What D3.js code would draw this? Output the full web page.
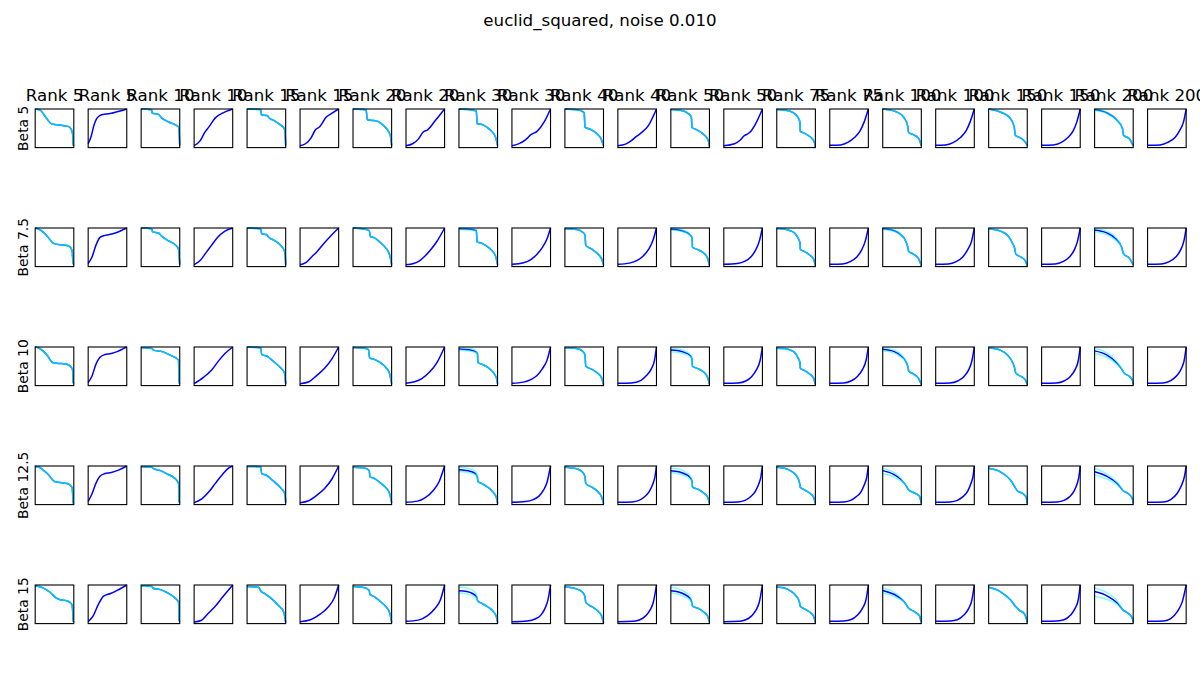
<!DOCTYPE html>
<html>
<head>
<meta charset="utf-8">
<script src="https://cdn.jsdelivr.net/npm/d3@7"></script>
<style>
  html, body { margin: 0; padding: 0; background: #ffffff; }
  svg { display: block; font-family: "DejaVu Sans", sans-serif; }
</style>
</head>
<body>
<svg id="chart" width="1200" height="700"></svg>
<script>
// ---------------- DATA ----------------
const chartTitle = "euclid_squared, noise 0.010";
const ranks = [5, 10, 15, 20, 30, 40, 50, 75, 100, 150, 200];
const betas = ["5", "7.5", "10", "12.5", "15"];

// Decreasing curves (odd columns): decreasing[rankIdx][betaIdx] = [[x, y], ...] (normalised)
const decreasing = [
  [ // Rank 5
    [[0,1],[0.13,0.97],[0.25,0.82],[0.43,0.61],[0.5,0.6],[0.85,0.55],[0.93,0.48],[0.97,0.35],[0.98,0.1],[1,0.05]],
    [[0,1],[0.07,0.98],[0.2,0.9],[0.3,0.8],[0.48,0.6],[0.6,0.57],[0.85,0.54],[0.93,0.48],[0.96,0.38],[0.98,0.1],[1,0.05]],
    [[0,1],[0.08,0.98],[0.2,0.9],[0.3,0.8],[0.45,0.6],[0.55,0.58],[0.8,0.56],[0.93,0.48],[0.97,0.4],[0.98,0.1],[1,0.05]],
    [[0,0.99],[0.08,0.98],[0.2,0.9],[0.32,0.8],[0.5,0.6],[0.6,0.58],[0.85,0.54],[0.95,0.45],[0.97,0.3],[0.98,0.05],[1,0.03]],
    [[0,0.98],[0.1,0.96],[0.25,0.9],[0.4,0.8],[0.55,0.66],[0.65,0.62],[0.85,0.58],[0.95,0.5],[0.97,0.35],[0.98,0.1],[1,0.03]]
  ],
  [ // Rank 10
    [[0,1],[0.27,0.98],[0.29,0.89],[0.45,0.86],[0.53,0.77],[0.7,0.67],[0.9,0.58],[0.97,0.53],[0.99,0.3],[1,0.05]],
    [[0,1],[0.27,0.98],[0.3,0.9],[0.45,0.87],[0.52,0.8],[0.7,0.67],[0.9,0.55],[0.97,0.45],[0.99,0.2],[1,0.05]],
    [[0,0.98],[0.28,0.96],[0.32,0.92],[0.55,0.88],[0.75,0.79],[0.97,0.66],[0.98,0.1],[1,0.05]],
    [[0,0.98],[0.28,0.97],[0.32,0.93],[0.5,0.88],[0.7,0.78],[0.85,0.7],[0.97,0.55],[0.98,0.1],[1,0.05]],
    [[0,0.98],[0.28,0.96],[0.32,0.91],[0.5,0.88],[0.68,0.8],[0.86,0.68],[0.97,0.56],[0.98,0.1],[1,0.05]]
  ],
  [ // Rank 15
    [[0,1],[0.35,0.99],[0.37,0.85],[0.52,0.83],[0.58,0.76],[0.7,0.7],[0.85,0.6],[0.97,0.48],[0.99,0.3],[1,0.05]],
    [[0,1],[0.35,0.98],[0.38,0.85],[0.5,0.83],[0.56,0.76],[0.7,0.68],[0.85,0.57],[0.97,0.4],[0.99,0.25],[1,0.05]],
    [[0,1],[0.35,0.98],[0.38,0.8],[0.52,0.76],[0.6,0.7],[0.74,0.58],[0.88,0.45],[0.97,0.33],[0.99,0.15],[1,0.05]],
    [[0,0.99],[0.35,0.98],[0.38,0.8],[0.5,0.76],[0.6,0.68],[0.75,0.55],[0.9,0.4],[0.98,0.28],[1,0.05]],
    [[0,0.96],[0.3,0.94],[0.36,0.84],[0.45,0.78],[0.62,0.66],[0.8,0.48],[0.95,0.3],[0.98,0.15],[1,0.03]]
  ],
  [ // Rank 20
    [[0,1],[0.34,0.98],[0.37,0.72],[0.55,0.7],[0.68,0.66],[0.8,0.56],[0.9,0.45],[0.97,0.3],[1,0.05]],
    [[0,1],[0.3,0.97],[0.42,0.93],[0.45,0.78],[0.55,0.75],[0.7,0.63],[0.85,0.48],[0.95,0.3],[1,0.05]],
    [[0,0.99],[0.3,0.97],[0.4,0.93],[0.43,0.72],[0.55,0.68],[0.7,0.6],[0.85,0.47],[0.95,0.3],[1,0.05]],
    [[0,0.97],[0.3,0.95],[0.42,0.88],[0.44,0.72],[0.55,0.68],[0.7,0.57],[0.85,0.44],[0.95,0.28],[1,0.05]],
    [[0,0.96],[0.3,0.93],[0.42,0.86],[0.44,0.75],[0.55,0.7],[0.7,0.58],[0.85,0.44],[0.95,0.28],[1,0.03]]
  ],
  [ // Rank 30
    [[0,1],[0.3,0.98],[0.45,0.95],[0.47,0.62],[0.6,0.6],[0.72,0.53],[0.85,0.42],[0.95,0.27],[1,0.05]],
    [[0,0.98],[0.3,0.97],[0.45,0.93],[0.47,0.64],[0.6,0.6],[0.72,0.53],[0.85,0.42],[0.95,0.27],[1,0.05]],
    [[0,0.95],[0.3,0.92],[0.43,0.88],[0.48,0.82],[0.49,0.6],[0.6,0.55],[0.75,0.47],[0.88,0.35],[0.97,0.2],[1,0.05]],
    [[0,0.9],[0.3,0.86],[0.43,0.8],[0.48,0.7],[0.49,0.6],[0.6,0.54],[0.75,0.45],[0.88,0.33],[0.97,0.18],[1,0.03]],
    [[0,0.85],[0.2,0.83],[0.35,0.78],[0.45,0.7],[0.49,0.58],[0.6,0.52],[0.75,0.43],[0.88,0.32],[0.97,0.18],[1,0.03]]
  ],
  [ // Rank 40
    [[0,1],[0.3,0.98],[0.45,0.94],[0.5,0.9],[0.52,0.53],[0.69,0.46],[0.84,0.35],[0.94,0.22],[1,0.05]],
    [[0,0.98],[0.3,0.96],[0.45,0.9],[0.52,0.82],[0.54,0.55],[0.7,0.45],[0.85,0.33],[0.95,0.2],[1,0.05]],
    [[0,0.98],[0.3,0.96],[0.45,0.9],[0.52,0.8],[0.54,0.5],[0.7,0.42],[0.85,0.32],[0.95,0.2],[1,0.03]],
    [[0,0.97],[0.3,0.93],[0.45,0.85],[0.52,0.73],[0.54,0.55],[0.7,0.45],[0.85,0.34],[0.95,0.2],[1,0.03]],
    [[0,0.95],[0.3,0.9],[0.45,0.82],[0.52,0.7],[0.54,0.55],[0.7,0.44],[0.85,0.33],[0.95,0.2],[1,0.03]]
  ],
  [ // Rank 50
    [[0,0.99],[0.2,0.97],[0.35,0.94],[0.45,0.88],[0.53,0.8],[0.55,0.52],[0.65,0.47],[0.8,0.38],[0.92,0.27],[0.98,0.15],[1,0.03]],
    [[0,0.97],[0.2,0.95],[0.35,0.91],[0.48,0.84],[0.55,0.75],[0.56,0.5],[0.7,0.44],[0.85,0.35],[0.95,0.22],[1,0.03]],
    [[0,0.92],[0.2,0.9],[0.35,0.86],[0.5,0.78],[0.55,0.68],[0.56,0.5],[0.7,0.44],[0.85,0.35],[0.95,0.22],[1,0.03]],
    [[0,0.88],[0.2,0.85],[0.35,0.8],[0.5,0.7],[0.55,0.6],[0.56,0.45],[0.7,0.4],[0.85,0.3],[0.95,0.2],[1,0.03]],
    [[0,0.85],[0.2,0.82],[0.35,0.76],[0.5,0.65],[0.55,0.52],[0.56,0.45],[0.7,0.4],[0.85,0.3],[0.95,0.2],[1,0.03]]
  ],
  [ // Rank 75
    [[0,0.99],[0.2,0.97],[0.35,0.94],[0.45,0.89],[0.53,0.81],[0.58,0.72],[0.6,0.65],[0.61,0.42],[0.7,0.38],[0.82,0.31],[0.92,0.23],[0.98,0.12],[1,0.03]],
    [[0,0.99],[0.2,0.97],[0.35,0.93],[0.48,0.85],[0.56,0.72],[0.6,0.62],[0.61,0.45],[0.7,0.4],[0.85,0.3],[0.95,0.2],[1,0.03]],
    [[0,0.97],[0.2,0.96],[0.35,0.92],[0.48,0.84],[0.56,0.7],[0.6,0.6],[0.61,0.45],[0.7,0.4],[0.85,0.3],[0.95,0.2],[1,0.03]],
    [[0,0.97],[0.2,0.94],[0.35,0.88],[0.5,0.76],[0.58,0.6],[0.6,0.5],[0.61,0.45],[0.72,0.38],[0.85,0.3],[0.95,0.2],[1,0.03]],
    [[0,0.95],[0.2,0.92],[0.35,0.85],[0.5,0.72],[0.58,0.58],[0.61,0.45],[0.72,0.38],[0.85,0.3],[0.95,0.2],[1,0.03]]
  ],
  [ // Rank 100
    [[0,1],[0.35,0.93],[0.55,0.78],[0.65,0.55],[0.67,0.39],[0.8,0.33],[0.93,0.24],[1,0.05]],
    [[0,0.98],[0.3,0.93],[0.5,0.8],[0.6,0.65],[0.65,0.5],[0.67,0.4],[0.8,0.32],[0.92,0.22],[1,0.03]],
    [[0,0.94],[0.3,0.88],[0.5,0.75],[0.6,0.62],[0.66,0.45],[0.67,0.38],[0.8,0.3],[0.92,0.2],[1,0.03]],
    [[0,0.88],[0.29,0.78],[0.45,0.67],[0.55,0.56],[0.63,0.45],[0.66,0.39],[0.82,0.3],[0.95,0.22],[1,0.03]],
    [[0,0.86],[0.29,0.76],[0.45,0.66],[0.55,0.57],[0.63,0.46],[0.66,0.41],[0.82,0.31],[0.95,0.2],[1,0.03]]
  ],
  [ // Rank 150
    [[0,1],[0.33,0.91],[0.54,0.78],[0.66,0.55],[0.69,0.32],[0.84,0.24],[0.95,0.14],[1,0.05]],
    [[0,0.98],[0.3,0.92],[0.5,0.8],[0.62,0.6],[0.68,0.45],[0.7,0.33],[0.85,0.24],[0.95,0.15],[1,0.03]],
    [[0,0.98],[0.3,0.92],[0.5,0.78],[0.62,0.6],[0.68,0.43],[0.7,0.33],[0.85,0.23],[0.95,0.15],[1,0.03]],
    [[0,0.94],[0.3,0.85],[0.57,0.63],[0.7,0.42],[0.74,0.36],[0.88,0.29],[0.97,0.2],[1,0.03]],
    [[0,0.94],[0.3,0.83],[0.57,0.61],[0.7,0.44],[0.79,0.35],[0.92,0.26],[0.98,0.12],[1,0.03]]
  ],
  [ // Rank 200
    [[0,0.98],[0.32,0.9],[0.57,0.72],[0.72,0.5],[0.75,0.32],[0.9,0.23],[1,0.05]],
    [[0,0.95],[0.3,0.88],[0.55,0.72],[0.7,0.5],[0.75,0.33],[0.9,0.22],[1,0.05]],
    [[0,0.9],[0.3,0.8],[0.56,0.6],[0.72,0.4],[0.76,0.33],[0.9,0.24],[0.98,0.14],[1,0.03]],
    [[0,0.85],[0.32,0.73],[0.58,0.55],[0.74,0.36],[0.89,0.27],[0.98,0.15],[1,0.03]],
    [[0,0.83],[0.32,0.72],[0.58,0.54],[0.74,0.35],[0.89,0.25],[0.98,0.13],[1,0.03]]
  ]
];

// Increasing curves (even columns): increasing[rankIdx][betaIdx]
const increasing = [
  [ // Rank 5
    [[0,0.1],[0.08,0.3],[0.15,0.58],[0.22,0.75],[0.3,0.83],[0.45,0.87],[0.6,0.89],[0.75,0.93],[0.9,0.97],[1,1]],
    [[0,0.08],[0.1,0.25],[0.2,0.55],[0.3,0.75],[0.4,0.8],[0.55,0.83],[0.7,0.87],[0.85,0.93],[1,1]],
    [[0,0.08],[0.1,0.25],[0.2,0.55],[0.3,0.73],[0.42,0.8],[0.6,0.83],[0.75,0.88],[0.9,0.95],[1,1]],
    [[0,0.08],[0.1,0.28],[0.2,0.55],[0.3,0.73],[0.42,0.8],[0.6,0.83],[0.8,0.9],[1,1]],
    [[0,0.05],[0.13,0.2],[0.27,0.51],[0.4,0.71],[0.58,0.78],[0.75,0.86],[1,1]]
  ],
  [ // Rank 10
    [[0,0.05],[0.16,0.18],[0.28,0.4],[0.38,0.53],[0.55,0.77],[0.75,0.9],[1,1]],
    [[0,0.05],[0.15,0.15],[0.3,0.35],[0.45,0.55],[0.6,0.75],[0.8,0.92],[1,1]],
    [[0,0.05],[0.25,0.22],[0.45,0.4],[0.65,0.66],[0.8,0.83],[1,1]],
    [[0,0.05],[0.2,0.15],[0.4,0.35],[0.55,0.55],[0.75,0.8],[0.9,0.95],[1,1]],
    [[0,0.04],[0.18,0.08],[0.35,0.25],[0.53,0.43],[0.75,0.7],[1,1]]
  ],
  [ // Rank 15
    [[0,0.05],[0.14,0.1],[0.29,0.26],[0.39,0.45],[0.51,0.54],[0.68,0.79],[0.83,0.89],[1,1]],
    [[0,0.05],[0.15,0.1],[0.3,0.25],[0.45,0.4],[0.6,0.58],[0.8,0.8],[1,1]],
    [[0,0.05],[0.23,0.1],[0.43,0.26],[0.63,0.44],[0.83,0.7],[1,1]],
    [[0,0.05],[0.22,0.1],[0.43,0.24],[0.63,0.41],[0.83,0.67],[1,1]],
    [[0,0.05],[0.27,0.1],[0.53,0.25],[0.73,0.43],[0.88,0.65],[1,1]]
  ],
  [ // Rank 20
    [[0,0.05],[0.17,0.1],[0.32,0.22],[0.44,0.4],[0.56,0.46],[0.76,0.7],[1,1]],
    [[0,0.05],[0.2,0.08],[0.35,0.15],[0.5,0.28],[0.65,0.45],[0.8,0.65],[1,1]],
    [[0,0.06],[0.22,0.1],[0.42,0.19],[0.61,0.35],[0.81,0.61],[1,1]],
    [[0,0.06],[0.3,0.09],[0.5,0.18],[0.7,0.36],[0.86,0.6],[1,1]],
    [[0,0.06],[0.32,0.09],[0.55,0.2],[0.75,0.39],[0.89,0.61],[1,1]]
  ],
  [ // Rank 30
    [[0,0.05],[0.2,0.11],[0.35,0.2],[0.5,0.34],[0.65,0.42],[0.84,0.67],[1,1]],
    [[0,0.06],[0.3,0.1],[0.5,0.19],[0.65,0.32],[0.79,0.5],[0.91,0.72],[1,1]],
    [[0,0.06],[0.3,0.09],[0.5,0.16],[0.65,0.26],[0.79,0.44],[0.91,0.66],[1,1]],
    [[0,0.06],[0.35,0.08],[0.55,0.13],[0.7,0.22],[0.82,0.38],[0.91,0.58],[1,1]],
    [[0,0.05],[0.4,0.07],[0.6,0.12],[0.75,0.22],[0.86,0.4],[0.93,0.6],[1,1]]
  ],
  [ // Rank 40
    [[0,0.05],[0.2,0.09],[0.35,0.18],[0.48,0.29],[0.59,0.37],[0.79,0.57],[1,1]],
    [[0,0.06],[0.3,0.09],[0.5,0.16],[0.65,0.27],[0.8,0.45],[0.91,0.68],[1,1]],
    [[0,0.06],[0.35,0.07],[0.59,0.13],[0.74,0.26],[0.87,0.44],[0.95,0.66],[1,1]],
    [[0,0.06],[0.37,0.07],[0.55,0.11],[0.7,0.21],[0.82,0.35],[0.9,0.52],[0.96,0.72],[1,1]],
    [[0,0.05],[0.4,0.06],[0.57,0.1],[0.72,0.2],[0.84,0.36],[0.92,0.56],[1,1]]
  ],
  [ // Rank 50
    [[0,0.05],[0.28,0.1],[0.42,0.19],[0.52,0.3],[0.67,0.39],[0.82,0.61],[1,1]],
    [[0,0.06],[0.35,0.08],[0.55,0.14],[0.7,0.25],[0.82,0.42],[0.92,0.66],[1,1]],
    [[0,0.06],[0.37,0.07],[0.57,0.12],[0.72,0.23],[0.85,0.42],[0.94,0.65],[1,1]],
    [[0,0.06],[0.37,0.07],[0.55,0.11],[0.7,0.21],[0.82,0.35],[0.9,0.52],[0.96,0.72],[1,1]],
    [[0,0.05],[0.4,0.06],[0.57,0.1],[0.72,0.2],[0.84,0.36],[0.92,0.56],[1,1]]
  ],
  [ // Rank 75
    [[0,0.06],[0.28,0.07],[0.48,0.14],[0.64,0.26],[0.79,0.44],[0.89,0.66],[1,1]],
    [[0,0.06],[0.33,0.07],[0.53,0.13],[0.7,0.25],[0.83,0.44],[0.92,0.66],[1,1]],
    [[0,0.06],[0.35,0.07],[0.55,0.12],[0.71,0.23],[0.85,0.42],[0.94,0.65],[1,1]],
    [[0,0.06],[0.37,0.07],[0.54,0.11],[0.68,0.2],[0.81,0.33],[0.89,0.5],[0.96,0.72],[1,1]],
    [[0,0.06],[0.35,0.07],[0.54,0.1],[0.72,0.22],[0.85,0.4],[0.94,0.62],[1,1]]
  ],
  [ // Rank 100
    [[0,0.06],[0.25,0.07],[0.45,0.13],[0.64,0.26],[0.79,0.44],[0.89,0.66],[1,1]],
    [[0,0.06],[0.33,0.07],[0.53,0.13],[0.7,0.25],[0.83,0.44],[0.93,0.66],[1,1]],
    [[0,0.06],[0.37,0.07],[0.57,0.12],[0.73,0.23],[0.86,0.42],[0.94,0.65],[1,1]],
    [[0,0.06],[0.38,0.07],[0.56,0.11],[0.7,0.2],[0.83,0.35],[0.91,0.54],[0.97,0.75],[1,1]],
    [[0,0.06],[0.38,0.07],[0.56,0.1],[0.73,0.22],[0.86,0.4],[0.94,0.62],[1,1]]
  ],
  [ // Rank 150
    [[0,0.06],[0.3,0.07],[0.5,0.13],[0.68,0.26],[0.82,0.44],[0.91,0.66],[1,1]],
    [[0,0.06],[0.35,0.07],[0.55,0.13],[0.72,0.25],[0.85,0.44],[0.93,0.66],[1,1]],
    [[0,0.06],[0.38,0.07],[0.58,0.12],[0.74,0.23],[0.87,0.42],[0.95,0.65],[1,1]],
    [[0,0.06],[0.4,0.07],[0.58,0.11],[0.72,0.2],[0.84,0.35],[0.92,0.54],[0.97,0.75],[1,1]],
    [[0,0.06],[0.4,0.07],[0.58,0.1],[0.75,0.22],[0.87,0.4],[0.95,0.62],[1,1]]
  ],
  [ // Rank 200
    [[0,0.06],[0.32,0.07],[0.51,0.13],[0.71,0.26],[0.83,0.44],[0.93,0.66],[1,1]],
    [[0,0.06],[0.36,0.07],[0.56,0.13],[0.73,0.25],[0.86,0.44],[0.94,0.66],[1,1]],
    [[0,0.06],[0.4,0.07],[0.6,0.13],[0.76,0.26],[0.88,0.45],[0.95,0.66],[1,1]],
    [[0,0.06],[0.42,0.07],[0.6,0.13],[0.76,0.28],[0.88,0.5],[0.96,0.75],[1,1]],
    [[0,0.06],[0.42,0.07],[0.6,0.13],[0.77,0.31],[0.9,0.57],[1,1]]
  ]
];

// Upper / lower spread lines (cyan) where they separate from the mean; key = "rank|beta"
const bandUpper = {
  "30|7.5":  [[0,1.0],[0.3,0.99],[0.45,0.95]],
  "30|10":   [[0,0.99],[0.3,0.96],[0.43,0.91]],
  "30|12.5": [[0,0.97],[0.3,0.92],[0.43,0.85]],
  "30|15":   [[0,0.95],[0.2,0.92],[0.35,0.86],[0.45,0.76]],
  "50|7.5":  [[0,1.0],[0.2,0.98],[0.35,0.93],[0.48,0.86]],
  "50|10":   [[0,0.97],[0.2,0.95],[0.35,0.9],[0.5,0.81]],
  "50|12.5": [[0,0.95],[0.2,0.92],[0.35,0.86],[0.5,0.74]],
  "50|15":   [[0,0.94],[0.2,0.9],[0.35,0.83],[0.5,0.7]],
  "100|7.5": [[0,1.0],[0.3,0.95],[0.5,0.81]],
  "100|10":  [[0,0.99],[0.3,0.92],[0.5,0.78]],
  "100|12.5":[[0,0.94],[0.29,0.83],[0.45,0.7]],
  "100|15":  [[0,0.92],[0.29,0.81],[0.45,0.69]],
  "200|5":   [[0,1.0],[0.32,0.92],[0.57,0.73]],
  "200|7.5": [[0,0.99],[0.3,0.92],[0.55,0.75]],
  "200|10":  [[0,0.97],[0.3,0.86],[0.56,0.64]],
  "200|12.5":[[0,0.94],[0.32,0.79],[0.58,0.58]],
  "200|15":  [[0,0.92],[0.32,0.8],[0.58,0.59]]
};
const bandLower = {
  "30|7.5":  [[0,0.96],[0.3,0.95],[0.45,0.92]],
  "30|10":   [[0,0.92],[0.3,0.89],[0.43,0.86]],
  "30|12.5": [[0,0.86],[0.3,0.82],[0.43,0.77]],
  "30|15":   [[0,0.79],[0.2,0.77],[0.35,0.72],[0.45,0.66]],
  "50|7.5":  [[0,0.95],[0.2,0.93],[0.35,0.89],[0.48,0.82]],
  "50|10":   [[0,0.88],[0.2,0.86],[0.35,0.82],[0.5,0.75]],
  "50|12.5": [[0,0.83],[0.2,0.8],[0.35,0.75],[0.5,0.66]],
  "50|15":   [[0,0.79],[0.2,0.76],[0.35,0.7],[0.5,0.61]],
  "100|7.5": [[0,0.96],[0.3,0.91],[0.5,0.79]],
  "100|10":  [[0,0.9],[0.3,0.84],[0.5,0.72]],
  "100|12.5":[[0,0.8],[0.29,0.72],[0.45,0.63]],
  "100|15":  [[0,0.8],[0.29,0.71],[0.45,0.63]],
  "200|5":   [[0,0.96],[0.32,0.88],[0.57,0.71]],
  "200|7.5": [[0,0.9],[0.3,0.83],[0.55,0.68]],
  "200|10":  [[0,0.84],[0.3,0.74],[0.56,0.57]],
  "200|12.5":[[0,0.77],[0.32,0.66],[0.58,0.52]],
  "200|15":  [[0,0.7],[0.32,0.63],[0.58,0.5]]
};

// ---------------- LAYOUT ----------------
const svg = d3.select("#chart");
const nCols = ranks.length * 2;
const gridLeft = 35.2, colStep = 52.97, boxW = 38.6;
const gridTop = 109, rowStep = 119, boxH = 38.6;

const colX = d3.scaleLinear().domain([0, nCols - 1]).range([gridLeft, gridLeft + colStep * (nCols - 1)]);
const rowY = d3.scaleLinear().domain([0, betas.length - 1]).range([gridTop, gridTop + rowStep * (betas.length - 1)]);

svg.append("text")
  .attr("x", 600).attr("y", 26)
  .attr("text-anchor", "middle")
  .attr("font-size", 16.67)
  .attr("fill", "#000")
  .text(chartTitle);

function withBand(band, mean) {
  if (!band) return mean;
  const lastX = band[band.length - 1][0];
  return band.concat(mean.filter(p => p[0] > lastX));
}

betas.forEach((beta, bi) => {
  const top = rowY(bi);
  svg.append("text")
    .attr("transform", `translate(27.5,${top + boxH / 2}) rotate(-90)`)
    .attr("text-anchor", "middle")
    .attr("font-size", 13.9)
    .attr("fill", "#000")
    .text("Beta " + beta);

  ranks.forEach((rank, ri) => {
    [0, 1].forEach(k => {
      const ci = ri * 2 + k;
      const left = colX(ci);
      const x = d3.scaleLinear().domain([0, 1]).range([left, left + boxW]);
      const y = d3.scaleLinear().domain([0, 1]).range([top + boxH, top]);
      const line = d3.line().x(d => x(d[0])).y(d => y(d[1])).curve(d3.curveMonotoneX);
      const g = svg.append("g");

      if (bi === 0) {
        svg.append("text")
          .attr("x", left + boxW / 2).attr("y", top - 8.3)
          .attr("text-anchor", "middle")
          .attr("font-size", 16.67)
          .attr("fill", "#000")
          .text("Rank " + rank);
      }

      if (k === 0) {
        const mean = decreasing[ri][bi];
        const key = rank + "|" + beta;
        g.append("path").attr("d", line(mean))
          .attr("fill", "none").attr("stroke", "#0000ff").attr("stroke-width", 1.5);
        [withBand(bandUpper[key], mean), withBand(bandLower[key], mean)].forEach(c => {
          g.append("path").attr("d", line(c))
            .attr("fill", "none").attr("stroke", "#00ffff").attr("stroke-opacity", 0.5)
            .attr("stroke-width", 1.5);
        });
      } else {
        g.append("path").attr("d", line(increasing[ri][bi]))
          .attr("fill", "none").attr("stroke", "#0000ff").attr("stroke-width", 1.5);
      }

      svg.append("rect")
        .attr("x", left).attr("y", top)
        .attr("width", boxW).attr("height", boxH)
        .attr("fill", "none").attr("stroke", "#000").attr("stroke-width", 1.1);
    });
  });
});
</script>
</body>
</html>
